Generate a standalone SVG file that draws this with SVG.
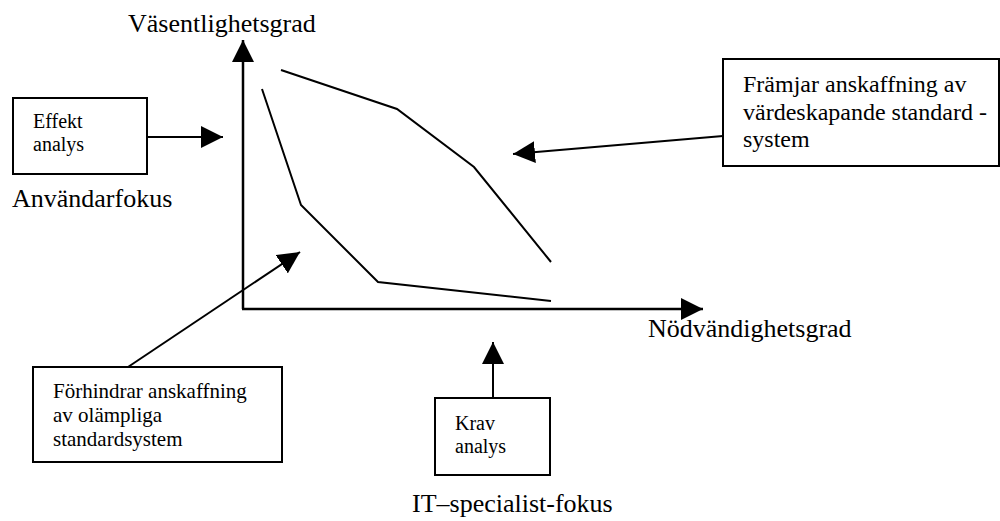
<svg xmlns="http://www.w3.org/2000/svg" width="1000" height="521" viewBox="0 0 1000 521">
  <style>
    .box { fill: #ffffff; stroke: #000000; stroke-width: 2; }
    .line { fill: none; stroke: #000000; stroke-width: 2; }
    .axis { fill: none; stroke: #000000; stroke-width: 2.5; }
    text { font-family: 'Liberation Serif', 'Times New Roman', 'DejaVu Serif', serif; fill: #000000; }
    .label { font-size: 26px; }
    .t20 { font-size: 20px; }
    .t21 { font-size: 21px; }
    .t24 { font-size: 24px; }
  </style>
  <defs>
    <marker id="head" markerUnits="userSpaceOnUse" markerWidth="22" markerHeight="22" viewBox="0 0 20 20" refX="20" refY="10" orient="auto">
      <path d="M0,0 L20,10 L0,20 Z" fill="#000000"/>
    </marker>
  </defs>

  <rect width="1000" height="521" fill="#ffffff"/>

  <!-- axes and curves -->
  <g id="chart" font-family="Liberation Serif, Times New Roman, serif">
    <line class="axis" x1="243" y1="309" x2="243" y2="40" marker-end="url(#head)"/>
    <line class="axis" x1="242" y1="309" x2="703" y2="309" marker-end="url(#head)"/>
    <polyline class="line" points="281,70 397,109 474,167 551,262"/>
    <polyline class="line" points="262,89 301,205 378,282 551,301"/>
    <text class="label" x="128" y="32">Väsentlighetsgrad</text>
    <text class="label" x="648" y="337">Nödvändighetsgrad</text>
    <text class="label" x="12" y="207">Användarfokus</text>
    <text class="label" x="412" y="512">IT–specialist-fokus</text>
  </g>

  <!-- connectors -->
  <g id="connectors">
    <line class="line" x1="147" y1="137" x2="223" y2="137" marker-end="url(#head)"/>
    <line class="line" x1="723" y1="136" x2="513" y2="154" marker-end="url(#head)"/>
    <line class="line" x1="128" y1="367" x2="300" y2="252" marker-end="url(#head)"/>
    <line class="line" x1="493" y1="398" x2="493" y2="342" marker-end="url(#head)"/>
  </g>

  <g id="effekt">
    <rect class="box" x="13" y="98" width="134" height="76"/>
    <text class="t20" x="33" y="128">Effekt</text>
    <text class="t20" x="33" y="151">analys</text>
  </g>

  <g id="framjar">
    <rect class="box" x="723" y="59" width="276" height="107"/>
    <text class="t24" x="743" y="92">Främjar anskaffning av</text>
    <text class="t24" x="743" y="120">värdeskapande standard -</text>
    <text class="t24" x="743" y="147">system</text>
  </g>

  <g id="forhindrar">
    <rect class="box" x="33" y="367" width="249" height="95"/>
    <text class="t21" x="53" y="398">Förhindrar anskaffning</text>
    <text class="t21" x="53" y="422">av olämpliga</text>
    <text class="t21" x="53" y="446">standardsystem</text>
  </g>

  <g id="krav">
    <rect class="box" x="435" y="398" width="115" height="77"/>
    <text class="t20" x="455" y="430">Krav</text>
    <text class="t20" x="455" y="453">analys</text>
  </g>
</svg>
